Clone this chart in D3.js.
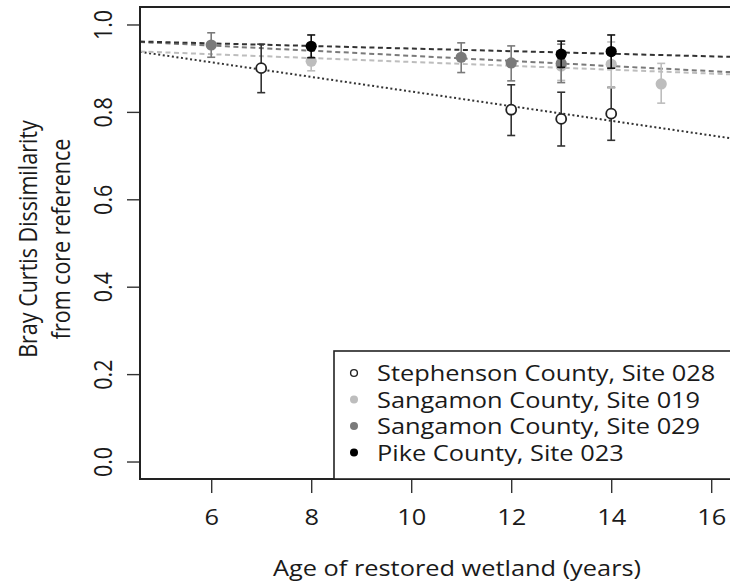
<!DOCTYPE html>
<html>
<head>
<meta charset="utf-8">
<script src="https://cdn.jsdelivr.net/npm/d3@7"></script>
<style>
  body { margin: 0; background: #fff; }
  svg text { font-family: "Open Sans", sans-serif; fill: #1a1a1a; }
</style>
</head>
<body>
<div id="chart"></div>
<script>
// series names, in legend order
const seriesNames = ["Stephenson County, Site 028", "Sangamon County, Site 019", "Sangamon County, Site 029", "Pike County, Site 023"];

// site means and error bar ends
const stephensonAge = [7, 12, 13, 14];
const stephensonMean = [0.900, 0.805, 0.784, 0.796];
const stephensonLo = [0.844, 0.746, 0.722, 0.735];
const stephensonHi = [0.955, 0.862, 0.845, 0.856];

const sangamon019Age = [8, 13, 14, 15];
const sangamon019Mean = [0.916, 0.905, 0.909, 0.864];
const sangamon019Lo = [0.894, 0.872, 0.855, 0.820];
const sangamon019Hi = [0.941, 0.938, 0.960, 0.911];

const sangamon029Age = [6, 11, 12, 13];
const sangamon029Mean = [0.953, 0.925, 0.912, 0.911];
const sangamon029Lo = [0.925, 0.890, 0.871, 0.867];
const sangamon029Hi = [0.981, 0.958, 0.951, 0.955];

const pikeAge = [8, 13, 14];
const pikeMean = [0.950, 0.932, 0.938];
const pikeLo = [0.924, 0.902, 0.900];
const pikeHi = [0.976, 0.962, 0.976];

// fitted trend lines (intercept at age 0, slope per year)
const fitIntercept = [1.014, 0.9586, 0.9868, 0.9746];
const fitSlope = [-0.01674, -0.00443, -0.00585, -0.00297];

const xTicks = [6, 8, 10, 12, 14, 16];
const yTicks = [0.0, 0.2, 0.4, 0.6, 0.8, 1.0];
// the right side of the plot runs past the picture edge
const xDomain = [4.576, 17.256];
const yDomain = [-0.04, 1.04];

const xTitle = "Age of restored wetland (years)";
const yTitle = ["Bray Curtis Dissimilarity", "from core reference"];

// styles per series
const styles = [
  { fill: "#fff", stroke: "#222", bar: "#333", line: "#333", dash: "2,2.6" },
  { fill: "#bdbdbd", stroke: "none", bar: "#bdbdbd", line: "#bdbdbd", dash: "5,3.5" },
  { fill: "#7a7a7a", stroke: "none", bar: "#7a7a7a", line: "#7a7a7a", dash: "5,3.5" },
  { fill: "#000", stroke: "none", bar: "#111", line: "#333", dash: "5,3.5" }
];

const groups = [
  [stephensonAge, stephensonMean, stephensonLo, stephensonHi],
  [sangamon019Age, sangamon019Mean, sangamon019Lo, sangamon019Hi],
  [sangamon029Age, sangamon029Mean, sangamon029Lo, sangamon029Hi],
  [pikeAge, pikeMean, pikeLo, pikeHi]
].map(([age, mean, lo, hi], s) => age.map((a, i) => ({ s, age: a, mean: mean[i], lo: lo[i], hi: hi[i] })));

const W = 730, H = 584;
const plotLeft = 140, plotRight = 774, plotTop = 7, plotBottom = 479;
const fontSize = "21.5px";
const stretch = 1.18; // the original figure is widened a bit, text included

const svg = d3.select("#chart").append("svg")
  .attr("width", W)
  .attr("height", H);

const x = d3.scaleLinear().domain(xDomain).range([plotLeft, plotRight]);
const y = d3.scaleLinear().domain(yDomain).range([plotBottom, plotTop]);

// clip for things inside the plot region
svg.append("clipPath").attr("id", "plotclip")
  .append("rect")
  .attr("x", plotLeft).attr("y", plotTop)
  .attr("width", plotRight - plotLeft)
  .attr("height", plotBottom - plotTop);

const plot = svg.append("g").attr("clip-path", "url(#plotclip)");

// trend lines
seriesNames.forEach((name, s) => {
  const line = d3.line()
    .x(d => x(d))
    .y(d => y(fitIntercept[s] + fitSlope[s] * d));
  plot.append("path")
    .datum(xDomain)
    .attr("fill", "none")
    .attr("stroke", styles[s].line)
    .attr("stroke-width", 2)
    .attr("stroke-dasharray", styles[s].dash)
    .attr("d", line);
});

// error bars + points, one series at a time so later ones sit on top
groups.forEach((pts, s) => {
  const st = styles[s];
  const g = plot.append("g");
  g.selectAll(".bar")
    .data(pts)
    .join("line")
    .attr("x1", d => x(d.age)).attr("x2", d => x(d.age))
    .attr("y1", d => y(d.lo)).attr("y2", d => y(d.hi))
    .attr("stroke", st.bar).attr("stroke-width", 1.6);
  ["lo", "hi"].forEach(k => {
    g.selectAll(".cap-" + k)
      .data(pts)
      .join("line")
      .attr("x1", d => x(d.age) - 4).attr("x2", d => x(d.age) + 4)
      .attr("y1", d => y(d[k])).attr("y2", d => y(d[k]))
      .attr("stroke", st.bar).attr("stroke-width", 1.6);
  });
  g.selectAll("circle")
    .data(pts)
    .join("circle")
    .attr("cx", d => x(d.age))
    .attr("cy", d => y(d.mean))
    .attr("r", st.stroke === "none" ? 5.6 : 5)
    .attr("fill", st.fill)
    .attr("stroke", st.stroke)
    .attr("stroke-width", 1.8);
});

// x axis
const xAxis = svg.append("g")
  .attr("transform", `translate(0,${plotBottom})`)
  .call(d3.axisBottom(x).tickValues(xTicks).tickSize(14).tickFormat(d3.format("d")));
xAxis.select(".domain").remove();
xAxis.selectAll(".tick line").attr("stroke", "#333").attr("stroke-width", 1.4);
xAxis.selectAll(".tick text")
  .style("font-size", fontSize)
  .attr("fill", "#1a1a1a")
  .attr("x", 0).attr("y", 0).attr("dy", 0)
  .attr("dominant-baseline", "central")
  .attr("transform", `translate(0,38) scale(${stretch},1)`);

// y axis, labels turned parallel to the axis
const yAxis = svg.append("g")
  .attr("transform", `translate(${plotLeft},0)`)
  .call(d3.axisLeft(y).tickValues(yTicks).tickSize(13).tickFormat(d3.format(".1f")));
yAxis.select(".domain").remove();
yAxis.selectAll(".tick line").attr("stroke", "#333").attr("stroke-width", 1.4);
yAxis.selectAll(".tick text")
  .style("font-size", fontSize)
  .attr("fill", "#1a1a1a")
  .attr("x", 0).attr("dy", 0)
  .attr("text-anchor", "middle")
  .attr("dominant-baseline", "central")
  .attr("transform", `translate(-38,0) scale(${stretch},1) rotate(-90)`);

// plot frame
svg.append("rect")
  .attr("x", plotLeft).attr("y", plotTop)
  .attr("width", plotRight - plotLeft)
  .attr("height", plotBottom - plotTop)
  .attr("fill", "none")
  .attr("stroke", "#222")
  .attr("stroke-width", 2);

// axis titles
svg.append("text")
  .attr("transform", `translate(${(plotLeft + plotRight) / 2},568) scale(${stretch},1)`)
  .attr("text-anchor", "middle")
  .attr("dominant-baseline", "central")
  .style("font-size", fontSize)
  .text(xTitle);

yTitle.forEach((t, i) => {
  svg.append("text")
    .attr("transform", `translate(${27 + i * 33},239) scale(${stretch},1) rotate(-90)`)
    .attr("text-anchor", "middle")
    .attr("dominant-baseline", "central")
    .style("font-size", fontSize)
    .text(t);
});

// legend
const legend = { left: 334, top: 351, rowH: 26.5, symX: 354, textX: 377 };
svg.append("rect")
  .attr("x", legend.left).attr("y", legend.top)
  .attr("width", plotRight - legend.left)
  .attr("height", plotBottom - legend.top)
  .attr("fill", "#fff")
  .attr("stroke", "#222")
  .attr("stroke-width", 1.6);

seriesNames.forEach((name, s) => {
  const cy = legend.top + 22 + s * legend.rowH;
  svg.append("circle")
    .attr("cx", legend.symX).attr("cy", cy)
    .attr("r", styles[s].stroke === "none" ? 4 : 3.4)
    .attr("fill", styles[s].fill)
    .attr("stroke", styles[s].stroke)
    .attr("stroke-width", 1.4);
  svg.append("text")
    .attr("transform", `translate(${legend.textX},${cy}) scale(${stretch},1)`)
    .attr("dominant-baseline", "central")
    .style("font-size", fontSize)
    .text(name);
});
</script>
</body>
</html>
